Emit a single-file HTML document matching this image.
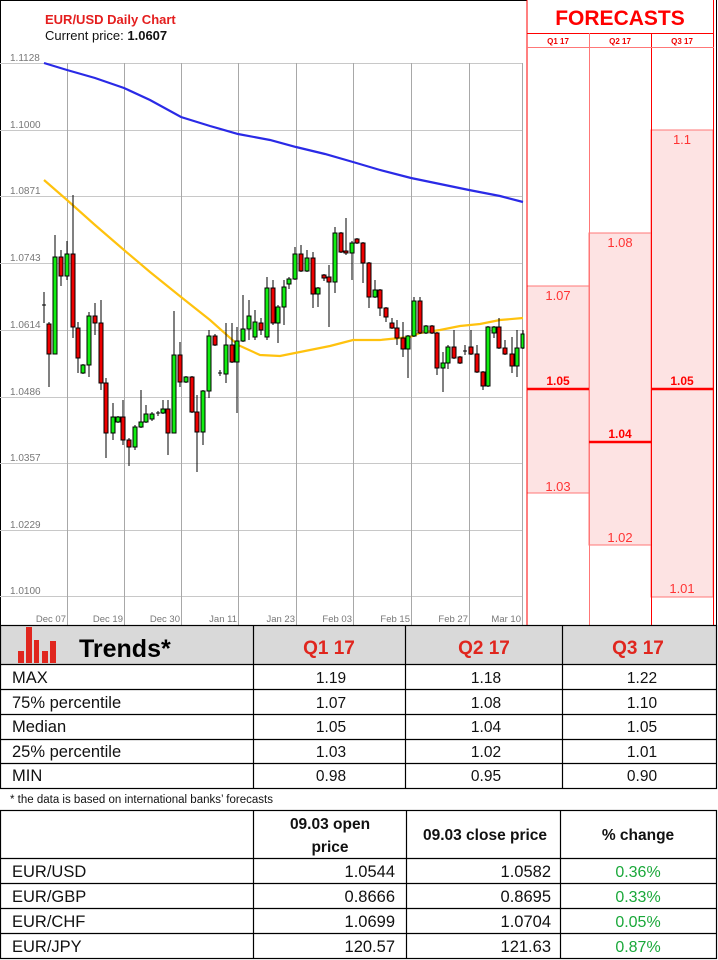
<!DOCTYPE html>
<html><head><meta charset="utf-8"><style>
body{margin:0;background:#fff}
svg{display:block}
text{font-family:"Liberation Sans",sans-serif}
</style></head><body>
<svg width="718" height="960" viewBox="0 0 718 960" xmlns="http://www.w3.org/2000/svg">
<rect x="0" y="0" width="718" height="960" fill="#fff"/>
<rect x="0.5" y="0.5" width="716" height="625" fill="none" stroke="#000"/>
<text x="45" y="24" font-size="13" fill="#e41e1e" font-weight="bold">EUR/USD Daily Chart</text>
<text x="45" y="40" font-size="13" fill="#111">Current price: <tspan font-weight="bold">1.0607</tspan></text>
<g stroke="#c8c8c8" stroke-width="1">
<line x1="0" y1="63.5" x2="522" y2="63.5"/><line x1="0" y1="130.5" x2="522" y2="130.5"/>
<line x1="0" y1="196.5" x2="522" y2="196.5"/><line x1="0" y1="263.5" x2="522" y2="263.5"/>
<line x1="0" y1="330.5" x2="522" y2="330.5"/><line x1="0" y1="397.5" x2="522" y2="397.5"/>
<line x1="0" y1="463.5" x2="522" y2="463.5"/><line x1="0" y1="530.5" x2="522" y2="530.5"/>
<line x1="0" y1="596.5" x2="522" y2="596.5"/>
</g>
<g stroke="#a8a8a8" stroke-width="1">
<line x1="67.5" y1="63" x2="67.5" y2="625"/><line x1="124.5" y1="63" x2="124.5" y2="625"/>
<line x1="181.5" y1="63" x2="181.5" y2="625"/><line x1="238.5" y1="63" x2="238.5" y2="625"/>
<line x1="296.5" y1="63" x2="296.5" y2="625"/><line x1="353.5" y1="63" x2="353.5" y2="625"/>
<line x1="411.5" y1="63" x2="411.5" y2="625"/><line x1="469.5" y1="63" x2="469.5" y2="625"/>
<line x1="522.5" y1="63" x2="522.5" y2="625"/>
</g>
<g font-size="10" fill="#777">
<text x="10" y="61">1.1128</text><text x="10" y="128">1.1000</text><text x="10" y="194">1.0871</text>
<text x="10" y="261">1.0743</text><text x="10" y="328">1.0614</text><text x="10" y="395">1.0486</text>
<text x="10" y="461">1.0357</text><text x="10" y="528">1.0229</text><text x="10" y="594">1.0100</text>
</g>
<g font-size="9.5" fill="#777" text-anchor="end">
<text x="66" y="622">Dec 07</text><text x="123" y="622">Dec 19</text><text x="180" y="622">Dec 30</text>
<text x="237" y="622">Jan 11</text><text x="295" y="622">Jan 23</text><text x="352" y="622">Feb 03</text>
<text x="410" y="622">Feb 15</text><text x="468" y="622">Feb 27</text><text x="521" y="622">Mar 10</text>
</g>
<polyline fill="none" stroke="#2a2ae6" stroke-width="2.2" points="44,63 67,70 95,78 124,88 150,100 181,117 210,126 238,134 270,140 296,147 325,154 353,162 380,170 411,178 440,184 469,190 500,196 523,202"/>
<polyline fill="none" stroke="#ffc20e" stroke-width="2.2" points="44,180 67,200 95,225 124,250 150,272 181,297 210,320 238,345 260,355 280,356 300,352 330,346 353,340 380,340 410,337 420,333 440,330 460,326 480,324 500,320 523,318"/>
<g stroke="#000" stroke-width="1">
<line x1="44" y1="292" x2="44" y2="323"/><line x1="42" y1="305" x2="46" y2="305"/>
<line x1="49" y1="322" x2="49" y2="387"/><rect x="47" y="324" width="4" height="30" fill="#e00"/>
<line x1="55" y1="235" x2="55" y2="354"/><rect x="53" y="257" width="4" height="97" fill="#1e1"/>
<line x1="61" y1="250" x2="61" y2="286"/><rect x="59" y="257" width="4" height="19" fill="#e00"/>
<line x1="67" y1="241" x2="67" y2="280"/><rect x="65" y="254" width="4" height="22" fill="#1e1"/>
<line x1="73" y1="195" x2="73" y2="338"/><rect x="71" y="254" width="4" height="73" fill="#e00"/>
<line x1="78" y1="322" x2="78" y2="373"/><rect x="76" y="328" width="4" height="30" fill="#e00"/>
<line x1="83" y1="364" x2="83" y2="374"/><rect x="81" y="365" width="4" height="8" fill="#1e1"/>
<line x1="89" y1="312" x2="89" y2="377"/><rect x="87" y="316" width="4" height="49" fill="#1e1"/>
<line x1="95" y1="303" x2="95" y2="335"/><rect x="93" y="316" width="4" height="7" fill="#e00"/>
<line x1="101" y1="300" x2="101" y2="390"/><rect x="99" y="323" width="4" height="60" fill="#e00"/>
<line x1="106" y1="378" x2="106" y2="458"/><rect x="104" y="383" width="4" height="50" fill="#e00"/>
<line x1="113" y1="403" x2="113" y2="440"/><rect x="111" y="417" width="4" height="16" fill="#1e1"/>
<line x1="118" y1="416" x2="118" y2="423"/><rect x="116" y="417" width="4" height="5" fill="#1e1"/>
<line x1="123" y1="400" x2="123" y2="445"/><rect x="121" y="417" width="4" height="23" fill="#e00"/>
<line x1="129" y1="438" x2="129" y2="466"/><rect x="127" y="440" width="4" height="7" fill="#e00"/>
<line x1="135" y1="425" x2="135" y2="450"/><rect x="133" y="427" width="4" height="20" fill="#1e1"/>
<line x1="141" y1="390" x2="141" y2="428"/><rect x="139" y="422" width="4" height="5" fill="#1e1"/>
<line x1="146" y1="405" x2="146" y2="423"/><rect x="144" y="414" width="4" height="8" fill="#1e1"/>
<line x1="152" y1="412" x2="152" y2="421"/><rect x="150" y="414" width="4" height="5" fill="#1e1"/>
<line x1="158" y1="411" x2="158" y2="416"/><line x1="156" y1="413" x2="160" y2="413"/>
<line x1="163" y1="400" x2="163" y2="414"/><rect x="161" y="409" width="4" height="4" fill="#1e1"/>
<line x1="168" y1="400" x2="168" y2="455"/><rect x="166" y="409" width="4" height="24" fill="#e00"/>
<line x1="174" y1="311" x2="174" y2="433"/><rect x="172" y="355" width="4" height="78" fill="#1e1"/>
<line x1="180" y1="342" x2="180" y2="387"/><rect x="178" y="355" width="4" height="27" fill="#e00"/>
<line x1="186" y1="376" x2="186" y2="383"/><rect x="184" y="377" width="4" height="5" fill="#1e1"/>
<line x1="192" y1="376" x2="192" y2="413"/><rect x="190" y="377" width="4" height="35" fill="#e00"/>
<line x1="197" y1="395" x2="197" y2="472"/><rect x="195" y="412" width="4" height="20" fill="#e00"/>
<line x1="203" y1="390" x2="203" y2="445"/><rect x="201" y="391" width="4" height="41" fill="#1e1"/>
<line x1="209" y1="330" x2="209" y2="398"/><rect x="207" y="336" width="4" height="55" fill="#1e1"/>
<line x1="215" y1="334" x2="215" y2="346"/><rect x="213" y="336" width="4" height="9" fill="#e00"/>
<line x1="220" y1="370" x2="220" y2="376"/><line x1="218" y1="373" x2="222" y2="373"/>
<line x1="226" y1="323" x2="226" y2="383"/><rect x="224" y="345" width="4" height="29" fill="#1e1"/>
<line x1="232" y1="323" x2="232" y2="363"/><rect x="230" y="345" width="4" height="17" fill="#e00"/>
<line x1="237" y1="327" x2="237" y2="413"/><rect x="235" y="341" width="4" height="21" fill="#1e1"/>
<line x1="243" y1="295" x2="243" y2="342"/><rect x="241" y="329" width="4" height="12" fill="#1e1"/>
<line x1="249" y1="300" x2="249" y2="340"/><rect x="247" y="316" width="4" height="13" fill="#1e1"/>
<line x1="255" y1="310" x2="255" y2="340"/><rect x="253" y="322" width="4" height="15" fill="#1e1"/>
<line x1="261" y1="318" x2="261" y2="335"/><rect x="259" y="323" width="4" height="7" fill="#e00"/>
<line x1="267" y1="277" x2="267" y2="340"/><rect x="265" y="288" width="4" height="49" fill="#1e1"/>
<line x1="273" y1="280" x2="273" y2="325"/><rect x="271" y="288" width="4" height="35" fill="#e00"/>
<line x1="278" y1="305" x2="278" y2="343"/><rect x="276" y="307" width="4" height="16" fill="#1e1"/>
<line x1="284" y1="280" x2="284" y2="325"/><rect x="282" y="287" width="4" height="20" fill="#1e1"/>
<line x1="289" y1="277" x2="289" y2="289"/><rect x="287" y="279" width="4" height="5" fill="#1e1"/>
<line x1="295" y1="247" x2="295" y2="280"/><rect x="293" y="254" width="4" height="25" fill="#1e1"/>
<line x1="301" y1="245" x2="301" y2="272"/><rect x="299" y="254" width="4" height="17" fill="#e00"/>
<line x1="307" y1="250" x2="307" y2="272"/><rect x="305" y="258" width="4" height="13" fill="#1e1"/>
<line x1="313" y1="252" x2="313" y2="308"/><rect x="311" y="258" width="4" height="36" fill="#e00"/>
<line x1="318" y1="287" x2="318" y2="307"/><rect x="316" y="288" width="4" height="6" fill="#1e1"/>
<line x1="324" y1="274" x2="324" y2="281"/><rect x="322" y="275" width="4" height="3" fill="#e00"/>
<line x1="329" y1="265" x2="329" y2="327"/><rect x="327" y="277" width="4" height="5" fill="#e00"/>
<line x1="335" y1="227" x2="335" y2="293"/><rect x="333" y="233" width="4" height="49" fill="#1e1"/>
<line x1="341" y1="232" x2="341" y2="253"/><rect x="339" y="233" width="4" height="19" fill="#e00"/>
<line x1="346" y1="218" x2="346" y2="255"/><rect x="344" y="251" width="4" height="2" fill="#e00"/>
<line x1="352" y1="241" x2="352" y2="280"/><rect x="350" y="243" width="4" height="10" fill="#1e1"/>
<line x1="357" y1="238" x2="357" y2="244"/><rect x="355" y="239" width="4" height="4" fill="#e00"/>
<line x1="363" y1="242" x2="363" y2="283"/><rect x="361" y="243" width="4" height="20" fill="#e00"/>
<line x1="369" y1="262" x2="369" y2="308"/><rect x="367" y="263" width="4" height="34" fill="#e00"/>
<line x1="375" y1="280" x2="375" y2="298"/><rect x="373" y="290" width="4" height="7" fill="#1e1"/>
<line x1="380" y1="289" x2="380" y2="316"/><rect x="378" y="290" width="4" height="18" fill="#e00"/>
<line x1="386" y1="307" x2="386" y2="322"/><rect x="384" y="308" width="4" height="9" fill="#e00"/>
<line x1="392" y1="318" x2="392" y2="329"/><rect x="390" y="323" width="4" height="5" fill="#e00"/>
<line x1="397" y1="320" x2="397" y2="345"/><rect x="395" y="328" width="4" height="10" fill="#e00"/>
<line x1="403" y1="322" x2="403" y2="357"/><rect x="401" y="338" width="4" height="11" fill="#e00"/>
<line x1="408" y1="335" x2="408" y2="378"/><rect x="406" y="336" width="4" height="13" fill="#1e1"/>
<line x1="414" y1="297" x2="414" y2="337"/><rect x="412" y="301" width="4" height="35" fill="#1e1"/>
<line x1="420" y1="297" x2="420" y2="334"/><rect x="418" y="301" width="4" height="32" fill="#e00"/>
<line x1="426" y1="325" x2="426" y2="334"/><rect x="424" y="326" width="4" height="7" fill="#1e1"/>
<line x1="432" y1="325" x2="432" y2="334"/><rect x="430" y="326" width="4" height="7" fill="#e00"/>
<line x1="437" y1="332" x2="437" y2="375"/><rect x="435" y="333" width="4" height="35" fill="#e00"/>
<line x1="443" y1="352" x2="443" y2="392"/><rect x="441" y="363" width="4" height="5" fill="#1e1"/>
<line x1="448" y1="345" x2="448" y2="369"/><rect x="446" y="347" width="4" height="16" fill="#1e1"/>
<line x1="454" y1="330" x2="454" y2="359"/><rect x="452" y="347" width="4" height="11" fill="#e00"/>
<line x1="460" y1="356" x2="460" y2="364"/><rect x="458" y="357" width="4" height="6" fill="#e00"/>
<line x1="465" y1="345" x2="465" y2="355"/><line x1="463" y1="351" x2="467" y2="351"/>
<line x1="471" y1="330" x2="471" y2="355"/><rect x="469" y="347" width="4" height="7" fill="#e00"/>
<line x1="477" y1="345" x2="477" y2="373"/><rect x="475" y="354" width="4" height="18" fill="#e00"/>
<line x1="483" y1="371" x2="483" y2="390"/><rect x="481" y="372" width="4" height="14" fill="#e00"/>
<line x1="488" y1="326" x2="488" y2="387"/><rect x="486" y="327" width="4" height="59" fill="#1e1"/>
<line x1="494" y1="326" x2="494" y2="338"/><rect x="492" y="327" width="4" height="6" fill="#1e1"/>
<line x1="499" y1="318" x2="499" y2="349"/><rect x="497" y="327" width="4" height="21" fill="#e00"/>
<line x1="505" y1="340" x2="505" y2="355"/><rect x="503" y="348" width="4" height="6" fill="#e00"/>
<line x1="512" y1="337" x2="512" y2="373"/><rect x="510" y="354" width="4" height="12" fill="#e00"/>
<line x1="517" y1="330" x2="517" y2="377"/><rect x="515" y="348" width="4" height="18" fill="#1e1"/>
<line x1="523" y1="330" x2="523" y2="349"/><rect x="521" y="334" width="3" height="14" fill="#1e1"/>
</g>
<rect x="527" y="0" width="190" height="625" fill="#fff"/>
<rect x="527" y="286" width="62" height="207" fill="#fde3e3" stroke="#f77" stroke-width="1"/>
<rect x="589" y="233" width="62" height="312" fill="#fde3e3" stroke="#f77" stroke-width="1"/>
<rect x="651" y="130" width="62" height="467" fill="#fde3e3" stroke="#f77" stroke-width="1"/>
<g stroke="#f00" stroke-width="1">
<line x1="527" y1="0" x2="527" y2="625"/><line x1="713.5" y1="0" x2="713.5" y2="625"/>
<line x1="527" y1="33.5" x2="714" y2="33.5"/>
<line x1="589.5" y1="33" x2="589.5" y2="625" stroke="#f77"/>
<line x1="651.5" y1="33" x2="651.5" y2="625"/>
<line x1="527" y1="47.5" x2="714" y2="47.5" stroke="#f77"/>
</g>
<line x1="716.5" y1="0" x2="716.5" y2="625" stroke="#000"/>
<g stroke="#f00" stroke-width="2.5">
<line x1="527" y1="389" x2="589" y2="389"/><line x1="589" y1="442" x2="651" y2="442"/><line x1="651" y1="389" x2="713" y2="389"/>
</g>
<text x="620" y="25" font-size="21" font-weight="bold" fill="#f00" text-anchor="middle">FORECASTS</text>
<g font-size="8" font-weight="bold" fill="#e00" text-anchor="middle">
<text x="558" y="44">Q1 17</text><text x="620" y="44">Q2 17</text><text x="682" y="44">Q3 17</text>
</g>
<g font-size="13" fill="#f33" text-anchor="middle">
<text x="558" y="300">1.07</text><text x="558" y="491">1.03</text>
<text x="620" y="247">1.08</text><text x="620" y="542">1.02</text>
<text x="682" y="144">1.1</text><text x="682" y="593">1.01</text>
</g>
<g font-size="12" fill="#f00" font-weight="bold" text-anchor="middle">
<text x="558" y="385">1.05</text><text x="620" y="438">1.04</text><text x="682" y="385">1.05</text>
</g>
<rect x="0.5" y="625.5" width="716" height="39" fill="#d9d9d9"/>
<g fill="#e0261e">
<rect x="18" y="651" width="6" height="12"/><rect x="26" y="627" width="6" height="36"/>
<rect x="34" y="640" width="5" height="23"/><rect x="42" y="651" width="6" height="12"/><rect x="50" y="641" width="6" height="22"/>
</g>
<text x="79" y="657" font-size="25" font-weight="bold" fill="#000">Trends*</text>
<g font-size="19" font-weight="bold" fill="#e0261e" text-anchor="middle">
<text x="329" y="654">Q1 17</text><text x="484" y="654">Q2 17</text><text x="638" y="654">Q3 17</text>
</g>
<g stroke="#000" stroke-width="1.2" fill="none">
<rect x="0.5" y="625.5" width="716" height="163"/>
<line x1="0" y1="664.5" x2="717" y2="664.5"/><line x1="0" y1="689.5" x2="717" y2="689.5"/>
<line x1="0" y1="714.5" x2="717" y2="714.5"/><line x1="0" y1="739.5" x2="717" y2="739.5"/>
<line x1="0" y1="763.5" x2="717" y2="763.5"/>
<line x1="253.5" y1="625" x2="253.5" y2="789"/><line x1="405.5" y1="625" x2="405.5" y2="789"/>
<line x1="562.5" y1="625" x2="562.5" y2="789"/>
</g>
<g font-size="16.5" fill="#111">
<text x="12" y="683">MAX</text><text x="12" y="708">75% percentile</text><text x="12" y="732">Median</text>
<text x="12" y="757">25% percentile</text><text x="12" y="781">MIN</text>
</g>
<g font-size="15.5" fill="#111" text-anchor="middle">
<text x="331" y="683">1.19</text><text x="486" y="683">1.18</text><text x="642" y="683">1.22</text>
<text x="331" y="708">1.07</text><text x="486" y="708">1.08</text><text x="642" y="708">1.10</text>
<text x="331" y="732">1.05</text><text x="486" y="732">1.04</text><text x="642" y="732">1.05</text>
<text x="331" y="757">1.03</text><text x="486" y="757">1.02</text><text x="642" y="757">1.01</text>
<text x="331" y="781">0.98</text><text x="486" y="781">0.95</text><text x="642" y="781">0.90</text>
</g>
<text x="10" y="803" font-size="11.5" fill="#111">* the data is based on international banks’ forecasts</text>
<g stroke="#000" stroke-width="1.2" fill="none">
<rect x="0.5" y="810.5" width="716" height="148"/>
<line x1="0" y1="858.5" x2="717" y2="858.5"/><line x1="0" y1="883.5" x2="717" y2="883.5"/>
<line x1="0" y1="908.5" x2="717" y2="908.5"/><line x1="0" y1="933.5" x2="717" y2="933.5"/>
<line x1="253.5" y1="810" x2="253.5" y2="959"/><line x1="406.5" y1="810" x2="406.5" y2="959"/>
<line x1="560.5" y1="810" x2="560.5" y2="959"/>
</g>
<g font-size="15.5" font-weight="bold" fill="#111" text-anchor="middle">
<text x="330" y="829">09.03 open</text><text x="330" y="852">price</text>
<text x="485" y="840">09.03 close price</text><text x="638" y="840">% change</text>
</g>
<g font-size="16.5" fill="#111">
<text x="12" y="877">EUR/USD</text><text x="12" y="902">EUR/GBP</text><text x="12" y="927">EUR/CHF</text><text x="12" y="952">EUR/JPY</text>
</g>
<g font-size="16.5" fill="#111" text-anchor="end">
<text x="395" y="877">1.0544</text><text x="551" y="877">1.0582</text>
<text x="395" y="902">0.8666</text><text x="551" y="902">0.8695</text>
<text x="395" y="927">1.0699</text><text x="551" y="927">1.0704</text>
<text x="395" y="952">120.57</text><text x="551" y="952">121.63</text>
</g>
<g font-size="16" fill="#1aa83a" text-anchor="middle">
<text x="638" y="877">0.36%</text><text x="638" y="902">0.33%</text><text x="638" y="927">0.05%</text><text x="638" y="952">0.87%</text>
</g>
</svg>
</body></html>
